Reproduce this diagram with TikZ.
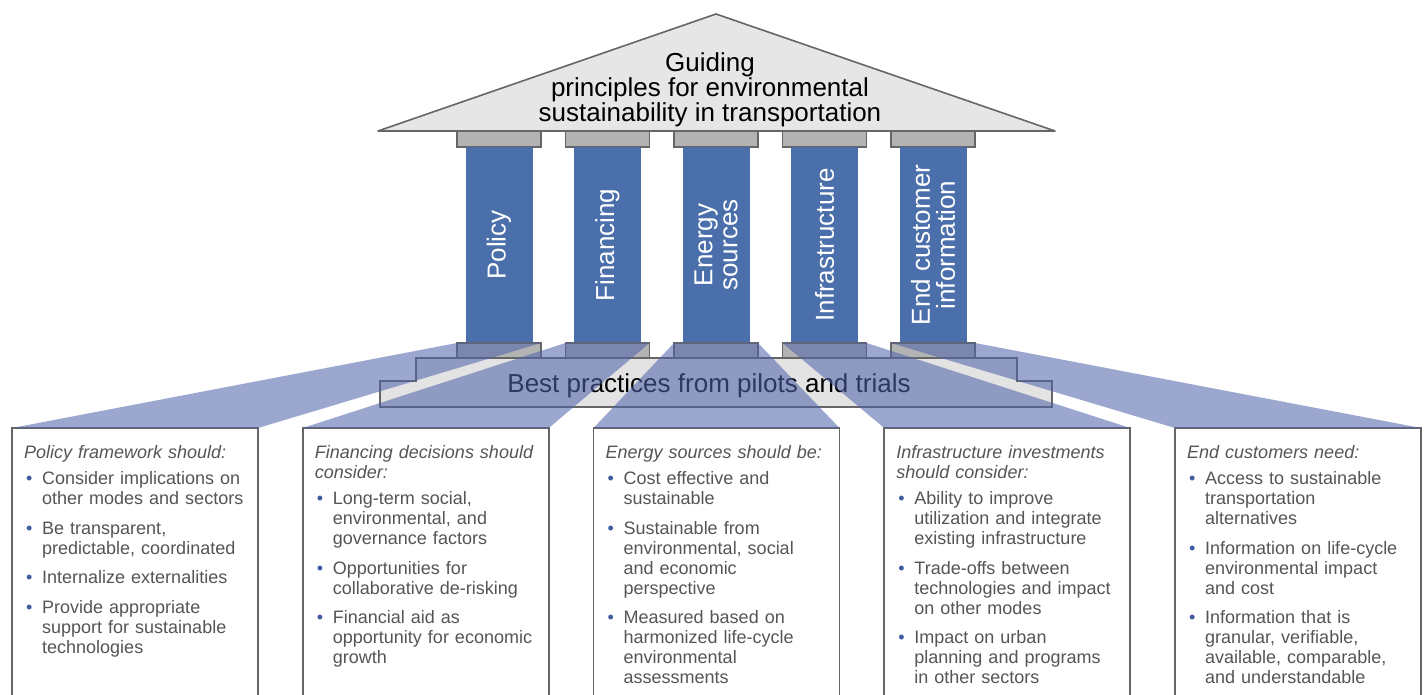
\documentclass[tikz,border=0pt]{standalone}
\usepackage{fontspec}
\setmainfont{Liberation Sans}
\usepackage{tikz}
\setlength{\parskip}{0pt}
\definecolor{pillarblue}{RGB}{74,111,170}
\definecolor{fanblue}{RGB}{80,100,170}
\definecolor{roofgray}{RGB}{230,230,230}
\definecolor{basegray}{RGB}{227,227,227}
\definecolor{capgray}{RGB}{179,179,179}
\definecolor{edgegray}{RGB}{102,102,102}
\definecolor{textgray}{RGB}{85,85,85}
\definecolor{dotblue}{RGB}{62,90,160}
\newcommand{\listhead}[1]{\noindent\textit{#1}\par\vspace{-3pt}}
\newcommand{\listitem}[1]{\vspace{9.5pt}\hangindent=18pt\hangafter=1\noindent\makebox[18pt][l]{\hspace{2pt}\textcolor{dotblue}{\textbullet}}#1\par}
\tikzset{
	every cap/.style={
		rectangle,
		fill=capgray,
		draw=edgegray,
		line width=1.6pt,
		minimum width=84pt,
		minimum height=16pt,
		inner sep=0pt,
		outer sep=0pt
	},
	every pillar/.style={
		rectangle,
		fill=pillarblue,
		minimum width=196pt,
		minimum height=67pt,
		inner sep=0pt,
		rotate=90,
		text=white,
		align=center,
		font=\fontsize{26}{25}\selectfont
	},
	every box/.style={
		rectangle,
		anchor=north west,
		draw=edgegray,
		fill=white,
		line width=1.6pt,
		minimum width=246pt,
		minimum height=300pt,
		inner sep=0pt,
		outer sep=0pt
	},
	box text/.style={
		anchor=north west,
		text width=235pt,
		align=left,
		inner sep=0pt,
		text=textgray,
		font=\fontsize{18}{20}\selectfont
	},
	big text/.style={
		align=center,
		inner sep=0pt,
		font=\fontsize{26}{25}\selectfont
	},
	fan/.style={
		fill=fanblue,
		fill opacity=0.57
	},
}

\begin{document}
\begin{tikzpicture}[x=1pt, y=-1pt]
\useasboundingbox (0,0) rectangle (1427,695);

\filldraw [fill=roofgray, draw=edgegray, line width=1.6pt, line join=round]
	(378,131) -- (716,14) -- (1055,131) -- cycle;
\node [big text] (title) at (710,90)
	{Guiding\\principles for environmental\\sustainability in transportation};

\foreach \l [count=\i] in {Policy, Financing, Energy\\sources, Infrastructure, End customer\\information}
{
	\node [every cap] (topcap-\i) at ({390.5+108.5*\i},139) {};
	\node [every pillar] (pillar-\i) at ({390.5+108.5*\i},245) {\l};
	\node [every cap] (lowcap-\i) at ({390.5+108.5*\i},351) {};
}

\filldraw [fill=basegray, draw=edgegray, line width=1.6pt]
	(416,358) -- (1017,358) -- (1017,381) -- (1052,381) -- (1052,407)
	-- (380,407) -- (380,381) -- (416,381) -- cycle;
\node [big text] (practice) at (709,386) {Best practices from pilots and trials};

\foreach \i in {1,...,5}
	\node [every box] (box-\i) at ({12+290.75*(\i-1)},428) {};

\foreach \i in {1,...,5}
	\fill [fan] (lowcap-\i.north west) -- (lowcap-\i.north east)
		-- (box-\i.north east) -- (box-\i.north west) -- cycle;

\node [box text] (list-1) at ([shift={(12pt,-17pt)}]box-1.north west) {%
	\listhead{Policy framework should:}
	\listitem{Consider implications on\newline other modes and sectors}
	\listitem{Be transparent,\newline predictable, coordinated}
	\listitem{Internalize externalities}
	\listitem{Provide appropriate\newline support for sustainable\newline technologies}};

\node [box text] (list-2) at ([shift={(12pt,-17pt)}]box-2.north west) {%
	\listhead{Financing decisions should\newline consider:}
	\listitem{Long-term social,\newline environmental, and\newline governance factors}
	\listitem{Opportunities for\newline collaborative de-risking}
	\listitem{Financial aid as\newline opportunity for economic\newline growth}};

\node [box text] (list-3) at ([shift={(12pt,-17pt)}]box-3.north west) {%
	\listhead{Energy sources should be:}
	\listitem{Cost effective and\newline sustainable}
	\listitem{Sustainable from\newline environmental, social\newline and economic\newline perspective}
	\listitem{Measured based on\newline harmonized life-cycle\newline environmental\newline assessments}};

\node [box text] (list-4) at ([shift={(12pt,-17pt)}]box-4.north west) {%
	\listhead{Infrastructure investments\newline should consider:}
	\listitem{Ability to improve\newline utilization and integrate\newline existing infrastructure}
	\listitem{Trade-offs between\newline technologies and impact\newline on other modes}
	\listitem{Impact on urban\newline planning and programs\newline in other sectors}};

\node [box text] (list-5) at ([shift={(12pt,-17pt)}]box-5.north west) {%
	\listhead{End customers need:}
	\listitem{Access to sustainable\newline transportation\newline alternatives}
	\listitem{Information on life-cycle\newline environmental impact\newline and cost}
	\listitem{Information that is\newline granular, verifiable,\newline available, comparable,\newline and understandable}};

\end{tikzpicture}
\end{document}
